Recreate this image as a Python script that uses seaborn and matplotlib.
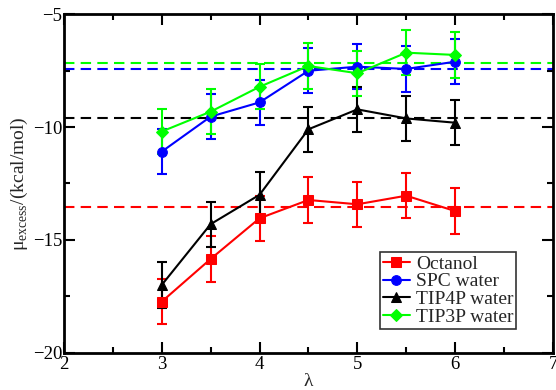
import matplotlib
matplotlib.use("Agg")
import matplotlib.pyplot as plt
import seaborn as sns
import pandas as pd
import numpy as np
from matplotlib.ticker import MultipleLocator

lam = [3.0, 3.5, 4.0, 4.5, 5.0, 5.5, 6.0]
octanol = [-17.73, -15.84, -14.04, -13.23, -13.42, -13.04, -13.72]
spc = [-11.09, -9.54, -8.91, -7.51, -7.33, -7.43, -7.11]
tip4p = [-16.99, -14.3, -13.0, -10.1, -9.22, -9.62, -9.81]
tip3p = [-10.2, -9.32, -8.22, -7.30, -7.62, -6.71, -6.81]
err = [1.0, 1.0, 1.0, 1.0, 1.0, 1.0, 1.0]
ref_lines = {"Octanol": -13.53, "SPC water": -7.43, "TIP4P water": -9.62, "TIP3P water": -7.18}

names = ["Octanol", "SPC water", "TIP4P water", "TIP3P water"]
series = [octanol, spc, tip4p, tip3p]
colors = ["#ff0000", "#0000ff", "#000000", "#00ff00"]
markers = ["s", "o", "^", "D"]
msizes = [6.5, 7, 7.5, 6]

sns.set_theme(style="ticks")
plt.rcParams["font.family"] = ["Liberation Serif", "DejaVu Serif"]
plt.rcParams["mathtext.fontset"] = "custom"
plt.rcParams["mathtext.rm"] = "Liberation Serif"

fig = plt.figure(figsize=(5.56, 3.9), dpi=100)
ax = fig.add_axes([0.115, 0.095, 0.8795, 0.869])

df = pd.DataFrame({
    "lam": lam * 4,
    "mu": sum(series, []),
    "model": sum([[n] * len(lam) for n in names], []),
})

for n, s, c, m, ms in zip(names, series, colors, markers, msizes):
    ax.axhline(ref_lines[n], color=c, ls=(0, (5, 3)), lw=1.5, zorder=1)
    ax.errorbar(lam, s, yerr=err, fmt="none", ecolor=c, elinewidth=1.5, capsize=3.5, capthick=1.5, zorder=2)
    sub = df[df["model"] == n]
    sns.lineplot(data=sub, x="lam", y="mu", ax=ax, color=c, marker=m, markersize=ms,
                 markeredgecolor=c, lw=1.5, label=n, zorder=3, errorbar=None)

ax.set_xlim(2, 7)
ax.set_ylim(-20, -5)
ax.xaxis.set_major_locator(MultipleLocator(1))
ax.xaxis.set_minor_locator(MultipleLocator(0.5))
ax.yaxis.set_major_locator(MultipleLocator(5))
ax.yaxis.set_minor_locator(MultipleLocator(2.5))
ax.tick_params(which="both", direction="in", top=True, right=True, width=1.5, labelsize=13.5, colors="black")
ax.tick_params(which="major", length=8)
ax.tick_params(which="minor", length=4)
ax.tick_params(axis="x", pad=2)
ax.tick_params(axis="y", pad=1)
for sp in ax.spines.values():
    sp.set_linewidth(2)
    sp.set_color("black")

ax.set_xlabel("λ", fontsize=14, labelpad=0)
ax.set_ylabel(r"μ$_{\mathrm{excess}}$/(kcal/mol)", fontsize=14, labelpad=2)

leg = ax.legend(loc="lower right", bbox_to_anchor=(0.925, 0.072), fontsize=14, frameon=True,
                fancybox=False, edgecolor="black", handlelength=1.4, borderpad=0.15,
                labelspacing=0.0, handletextpad=0.3, borderaxespad=0)
leg.get_frame().set_linewidth(1.2)

fig.savefig("out.png", dpi=100)
